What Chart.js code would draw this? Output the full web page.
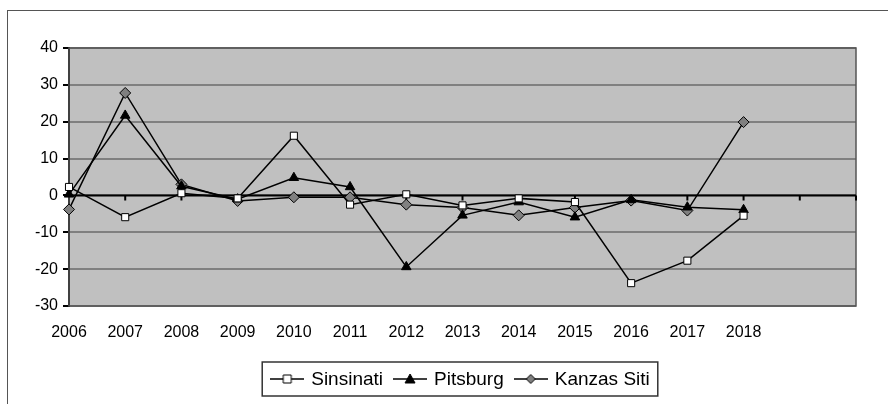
<!DOCTYPE html>
<html>
<head>
<meta charset="utf-8">
<script src="https://cdn.jsdelivr.net/npm/chart.js@4.4.1/dist/chart.umd.min.js"></script>
<style>
  html, body { margin: 0; padding: 0; background: #fff; }
  #wrap { position: relative; width: 888px; height: 404px; overflow: hidden; }
  #frame { position: absolute; left: 7px; top: 10px; width: 920px; height: 440px; border: 1.5px solid #555; }
  #c { position: absolute; left: 0; top: 0; }
</style>
</head>
<body>
<div id="wrap">
  <div id="frame"></div>
  <canvas id="c" width="888" height="404"></canvas>
</div>
<script>
// years on the axis, two empty slots at the end like the original sheet
const years = ['2006', '2007', '2008', '2009', '2010', '2011', '2012', '2013', '2014', '2015', '2016', '2017', '2018', '', ''];
const sinsinati = [2.3, -5.9, 0.6, -0.8, 16.2, -2.5, 0.3, -2.7, -0.8, -1.8, -23.8, -17.7, -5.5];
const pitsburg  = [0.3, 21.7, 2.5, -1.0, 4.8, 2.3, -19.4, -5.4, -1.8, -5.9, -1.2, -3.2, -3.9];
const kanzas    = [-3.8, 27.8, 3.0, -1.5, -0.5, -0.5, -2.5, -3.3, -5.4, -3.3, -1.4, -4.1, 19.9];
const yTicks = { min: -30, max: 40, step: 10 };

const FONT = 'Arial, "Liberation Sans", sans-serif';

// little "—marker—" pictures for the legend
function legendIcon(style, fill) {
  const cv = document.createElement('canvas');
  cv.width = 34; cv.height = 14;
  const g = cv.getContext('2d');
  g.strokeStyle = '#000';
  g.lineWidth = 1.5;
  g.beginPath(); g.moveTo(0, 7); g.lineTo(34, 7); g.stroke();
  g.fillStyle = fill;
  g.beginPath();
  if (style === 'rect') g.rect(13, 3, 8, 8);
  else if (style === 'triangle') { g.moveTo(17, 2); g.lineTo(22, 11); g.lineTo(12, 11); g.closePath(); }
  else { g.moveTo(17, 2.5); g.lineTo(21.5, 7); g.lineTo(17, 11.5); g.lineTo(12.5, 7); g.closePath(); }
  g.fill(); g.lineWidth = 1; g.stroke();
  return cv;
}
const icons = [legendIcon('rect', '#fff'), legendIcon('triangle', '#000'), legendIcon('diamond', '#808080')];

const plotBack = {
  id: 'plotBack',
  beforeDraw(chart) {
    const { ctx, chartArea: a } = chart;
    ctx.save();
    ctx.fillStyle = '#c0c0c0';
    ctx.fillRect(a.left, a.top, a.right - a.left, a.bottom - a.top);
    ctx.restore();
  },
  beforeDatasetsDraw(chart) {
    const { ctx, chartArea: a, scales } = chart;
    const y0 = scales.y.getPixelForValue(0);
    ctx.save();
    ctx.strokeStyle = '#555';
    ctx.lineWidth = 1.5;
    ctx.strokeRect(a.left, a.top, a.right - a.left, a.bottom - a.top);
    ctx.strokeStyle = '#000';
    ctx.lineWidth = 2;
    ctx.beginPath();
    ctx.moveTo(a.left, y0); ctx.lineTo(a.right, y0);
    for (let i = 1; i < years.length; i++) {
      const x = scales.x.getPixelForTick(i);
      ctx.moveTo(x, y0); ctx.lineTo(x, y0 + 5);
    }
    ctx.stroke();
    ctx.restore();
  },
  // boxed legend under the axis, Excel style
  afterDraw(chart) {
    const ctx = chart.ctx;
    const sets = chart.data.datasets;
    ctx.save();
    ctx.font = '19px ' + FONT;
    ctx.textBaseline = 'middle';
    ctx.fillStyle = '#000';
    const gapIcon = 7, gapItem = 10;
    const widths = sets.map(d => 34 + gapIcon + ctx.measureText(d.label).width);
    const total = widths.reduce((s, w) => s + w, 0) + gapItem * (sets.length - 1);
    const cx = 460, cy = 379;
    let x = cx - total / 2;
    ctx.strokeStyle = '#333';
    ctx.lineWidth = 1.5;
    ctx.strokeRect(x - 8, cy - 17, total + 16, 34);
    sets.forEach((d, i) => {
      ctx.drawImage(icons[i], x, cy - 7);
      ctx.fillText(d.label, x + 34 + gapIcon, cy + 1);
      x += widths[i] + gapItem;
    });
    ctx.restore();
  }
};

const ctx = document.getElementById('c').getContext('2d');
const chart = new Chart(ctx, {
  type: 'line',
  data: {
    labels: years,
    datasets: [
      { label: 'Sinsinati', data: sinsinati, pointStyle: 'rect', pointRadius: 5, pointBackgroundColor: '#fff' },
      { label: 'Pitsburg', data: pitsburg, pointStyle: 'triangle', pointRadius: 5.5, pointBackgroundColor: '#000' },
      { label: 'Kanzas Siti', data: kanzas, pointStyle: 'rectRot', pointRadius: 5.5, pointBackgroundColor: '#808080' }
    ].map(d => Object.assign({ borderColor: '#000', borderWidth: 1.5, pointBorderColor: '#000', pointBorderWidth: 1, tension: 0, clip: false }, d))
  },
  options: {
    responsive: false,
    animation: false,
    layout: { padding: { left: 7, top: 48, right: 32, bottom: 58 } },
    plugins: {
      tooltip: { enabled: false },
      legend: { display: false }
    },
    scales: {
      x: {
        offset: false,
        grid: { display: false },
        border: { display: false },
        ticks: { font: { family: FONT, size: 16 }, color: '#000', autoSkip: false, maxRotation: 0, padding: 9 },
        afterFit(s) { s.height = 40; }
      },
      y: {
        min: yTicks.min, max: yTicks.max,
        grid: { color: '#808080', lineWidth: 2, tickLength: 6, tickColor: '#000' },
        border: { display: true, color: '#000', width: 2 },
        ticks: { stepSize: yTicks.step, font: { family: FONT, size: 16 }, color: '#000', padding: 5 },
        afterFit(s) { s.width = 62; }
      }
    }
  },
  plugins: [plotBack]
});
</script>
</body>
</html>
